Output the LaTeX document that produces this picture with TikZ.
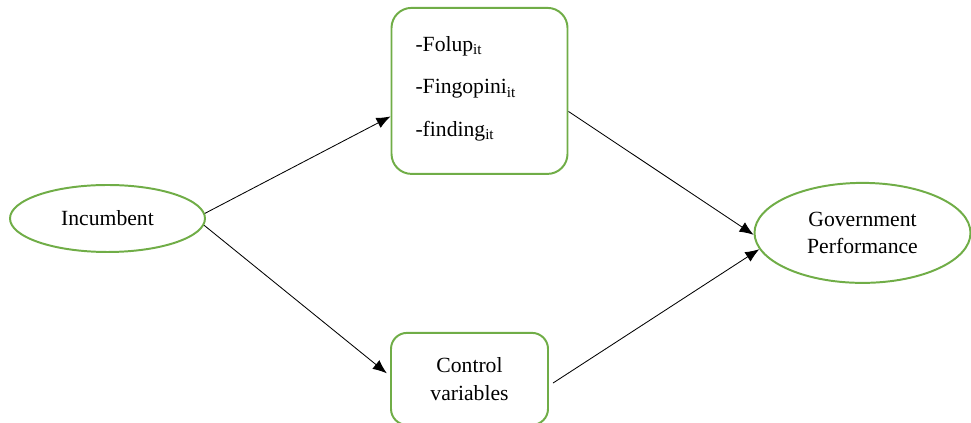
\documentclass[tikz,border=0pt]{standalone}
\usepackage{fontspec}
\setmainfont{Liberation Serif}
\usetikzlibrary{shapes.geometric, arrows.meta}
\definecolor{bordergreen}{RGB}{112,173,71}
\tikzstyle{ellg} = [ellipse, draw=bordergreen, line width=1.4pt, align=center, inner sep=0, minimum width=4.875cm, minimum height=1.675cm]
\tikzstyle{blockg} = [rectangle, draw=bordergreen, line width=1.4pt, rounded corners=0.5cm, align=center]
\tikzstyle{line} = [draw, -{Latex[length=3.5mm,width=2.8mm]}, line width=0.6pt]

\begin{document}
\begin{tikzpicture}[node distance=9.3cm, font=\fontsize{15.4}{19.6}\selectfont]

\useasboundingbox (-2.6875,5.4625) rectangle (21.5875,-5.1125);

\node [ellg] (inc) {Incumbent};
\node [blockg, right of=inc, yshift=3.19cm, minimum width=4.4cm, minimum height=4.15cm, text width=3.2cm, inner xsep=0.6cm, align=left, font=\fontsize{15.4}{30.5}\selectfont] (obs) {-Folup\textsubscript{it}\\-Fingopini\textsubscript{it}\\-finding\textsubscript{it}\\[-0.85cm]\mbox{}};
\node [blockg, right of=inc, xshift=-0.25cm, yshift=-4.01cm, minimum width=3.925cm, minimum height=2.3cm, rounded corners=0.4cm] (ctrl) {Control\\variables};
\node [ellg, right of=obs, xshift=0.275cm, yshift=-3.55cm, minimum width=5.4cm, minimum height=2.5cm] (gov) {Government\\Performance};

\path [line] (inc.3) -- (obs.196);
\path [line] (inc.-4) -- ([xshift=-0.08cm]ctrl.176);
\path [line] (obs.-13) -- (gov.181);
\path [line] ([xshift=0.1cm]ctrl.-3) -- (gov.189);

\end{tikzpicture}
\end{document}
